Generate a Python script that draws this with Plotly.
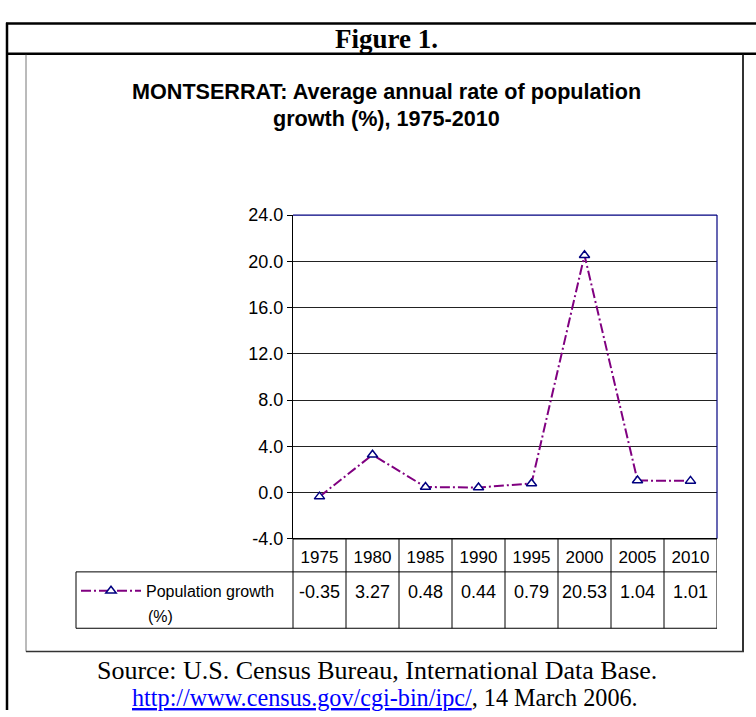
import plotly.graph_objects as go

# ---- data ----
years = ["1975", "1980", "1985", "1990", "1995", "2000", "2005", "2010"]
growth = [-0.35, 3.27, 0.48, 0.44, 0.79, 20.53, 1.04, 1.01]
value_labels = ["-0.35", "3.27", "0.48", "0.44", "0.79", "20.53", "1.04", "1.01"]
series_name = "Population growth"
y_ticks = [-4, 0, 4, 8, 12, 16, 20, 24]

W, H = 756, 717
def X(px):
    return px / W
def Y(py):
    return 1 - py / H

ARIAL = "Liberation Sans, Arial, sans-serif"
TIMES = "Liberation Serif, Times New Roman, serif"

idx = list(range(len(years)))

fig = go.Figure()
fig.add_trace(go.Scatter(
    x=idx, y=growth, name=series_name, mode="lines+markers",
    line=dict(color="#800080", width=2, dash="10px,3px,2px,3px"),
    marker=dict(symbol="triangle-up", size=9, color="white",
                line=dict(color="#000080", width=1.5)),
))

fig.update_layout(
    width=W, height=H,
    margin=dict(l=0, r=0, t=0, b=0),
    paper_bgcolor="white", plot_bgcolor="white",
    showlegend=True,
    legend=dict(x=X(76), y=Y(580), xanchor="left", yanchor="top",
                bgcolor="rgba(0,0,0,0)", borderwidth=0,
                font=dict(family=ARIAL, size=16, color="black"),
                itemwidth=60),
    xaxis=dict(domain=[X(293), X(717)], range=[-0.5, len(years) - 0.5],
               tickmode="array", tickvals=idx, ticktext=years,
               ticks="", showgrid=False, zeroline=False, showline=False,
               ticklabelstandoff=6,
               tickfont=dict(family=ARIAL, size=17, color="black")),
    yaxis=dict(domain=[Y(544), Y(211)], range=[-4, 24],
               tickmode="array", tickvals=y_ticks,
               ticktext=[f"{v:.1f}" for v in y_ticks],
               ticks="outside", ticklen=5, tickcolor="black",
               showgrid=True, gridcolor="#222222", gridwidth=1,
               zeroline=False, showline=True, linecolor="black", linewidth=1,
               tickfont=dict(family=ARIAL, size=18, color="black")),
)

shapes = []
def pline(x0, y0, x1, y1, color="black", width=1):
    shapes.append(dict(type="line", xref="paper", yref="paper",
                       x0=X(x0), y0=Y(y0), x1=X(x1), y1=Y(y1),
                       line=dict(color=color, width=width), layer="above"))

# outer figure frame
pline(6, 14, 760, 14, width=2.5)
pline(6, 45, 760, 45, width=2.5)
pline(7, 13, 7, 720, width=2.5)
# inner chart frame
pline(26, 46, 26, 660, color="#777777", width=1)
pline(26, 660, 744, 660, color="#333333", width=1.5)
pline(743, 46, 743, 660, color="#333333", width=2)

# plot area border (navy top/right, black bottom)
pline(293, 211, 717, 211, color="#000080", width=1.2)
pline(717, 211, 717, 544, color="#000080", width=1.2)
pline(293, 544, 717, 544, color="black", width=1.5)

# data table
pline(293, 544, 293, 636)
pline(76, 578, 717, 578)
pline(76, 636, 717, 636)
pline(76, 578, 76, 636)
for i in range(1, len(years) + 1):
    shapes.append(dict(type="line", xref="x", yref="paper",
                       x0=i - 0.5, x1=i - 0.5, y0=Y(544), y1=Y(636),
                       line=dict(color="black", width=1), layer="above"))
fig.update_layout(shapes=shapes)

ann = []
for i, lab in enumerate(value_labels):
    ann.append(dict(x=i, y=Y(599), xref="x", yref="paper", text=lab,
                    showarrow=False, xanchor="center", yanchor="middle",
                    font=dict(family=ARIAL, size=18, color="black")))
ann.append(dict(x=X(146), y=Y(624), xref="paper", yref="paper", text="(%)",
                showarrow=False, xanchor="left", yanchor="middle",
                font=dict(family=ARIAL, size=16, color="black")))
ann.append(dict(x=X(386), y=Y(30), xref="paper", yref="paper", text="<b>Figure 1.</b>",
                showarrow=False, xanchor="center", yanchor="middle",
                font=dict(family=TIMES, size=27, color="black")))
ann.append(dict(x=X(386), y=Y(84), xref="paper", yref="paper",
                text="<b>MONTSERRAT: Average annual rate of population</b>",
                showarrow=False, xanchor="center", yanchor="middle",
                font=dict(family=ARIAL, size=21.6, color="black")))
ann.append(dict(x=X(386), y=Y(112), xref="paper", yref="paper",
                text="<b>growth (%), 1975-2010</b>",
                showarrow=False, xanchor="center", yanchor="middle",
                font=dict(family=ARIAL, size=21.6, color="black")))
ann.append(dict(x=X(377), y=Y(679), xref="paper", yref="paper",
                text="Source: U.S. Census Bureau, International Data Base.",
                showarrow=False, xanchor="center", yanchor="middle",
                font=dict(family=TIMES, size=26, color="black")))
ann.append(dict(x=X(385), y=Y(707), xref="paper", yref="paper",
                text="<span style='color:#0000ff;text-decoration:underline'>http://www.census.gov/cgi-bin/ipc/</span>, 14 March 2006.",
                showarrow=False, xanchor="center", yanchor="middle",
                font=dict(family=TIMES, size=24.2, color="black")))
fig.update_layout(annotations=ann)

fig.write_html(
    "out.html",
    config={"displayModeBar": False, "responsive": False},
    post_script=(
        "var s=document.documentElement.style;s.margin='0';s.padding='0';s.overflow='hidden';"
        "var b=document.body.style;b.margin='0';b.padding='0';b.overflow='hidden';"
    ),
)
